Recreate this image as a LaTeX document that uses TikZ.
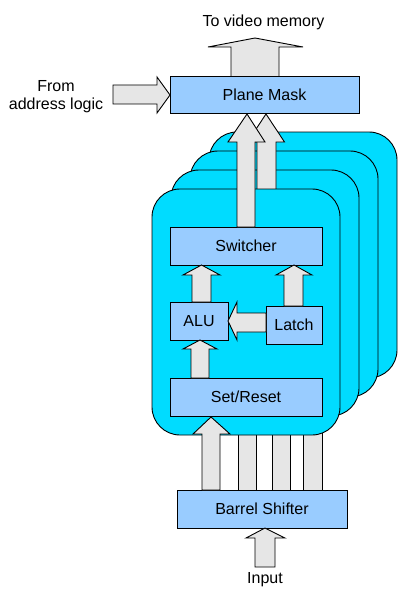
\documentclass[tikz,border=0pt]{standalone}
\usepackage{fontspec}
\setmainfont{Liberation Sans}
\begin{document}
\begin{tikzpicture}[x=1pt,y=-1pt,
  box/.style={draw=black,fill=boxblue,line width=0.9pt,inner sep=0pt,font=\fontsize{16}{19}\selectfont},
  card/.style={draw=black,fill=cardcyan,line width=0.9pt,rounded corners=28pt,minimum width=188pt,minimum height=246pt,inner sep=0pt},
  blockarrow/.style={draw=black,fill=arrowgray,line width=0.9pt,line join=miter},
  lbl/.style={inner sep=0pt,font=\fontsize{16}{19}\selectfont,align=center}]
\definecolor{boxblue}{HTML}{99CCFF}
\definecolor{cardcyan}{HTML}{00DCFF}
\definecolor{arrowgray}{HTML}{E6E6E6}
\useasboundingbox[fill=white] (0,0) rectangle (419,607);
% up block arrow: shaft xl..xr, head hl..hr, base y, tip (tx,ty), bottom y
\newcommand{\uparr}[8]{\draw[blockarrow] (#1,#8) -- (#1,#7) -- (#3,#7) -- (#5,#6) -- (#4,#7) -- (#2,#7) -- (#2,#8) -- cycle;}
% shafts from barrel shifter going behind the cards
\draw[blockarrow] (238,490) rectangle (256,420);
\draw[blockarrow] (272,490) rectangle (290,420);
\draw[blockarrow] (303,490) rectangle (322,420);
% stacked planes
\node[card] (card4) at (303,255) {};
\node[card] (card3) at (284,274) {};
\node[card] (card2) at (265,293) {};
\uparr{257}{276}{247.5}{284.5}{266}{114}{142}{200}
\node[card] (card1) at (246,312) {};
% top output arrow
\uparr{231}{279}{208}{303}{255}{38}{47}{77}
% nodes
\node[box,minimum width=189pt,minimum height=37pt] (pm) at (264.5,94.5) {Plane Mask};
\node[box,minimum width=152pt,minimum height=38pt] (sw) at (246,246) {Switcher};
\node[box,minimum width=58pt,minimum height=38pt] (alu) at (199,321) {ALU};
\node[box,minimum width=56pt,minimum height=38pt] (latch) at (294,325) {Latch};
\node[box,minimum width=152pt,minimum height=38pt] (sr) at (246,397) {Set/Reset};
\node[box,minimum width=170pt,minimum height=38pt] (bs) at (262,509) {Barrel Shifter};
% front arrow into plane mask
\uparr{237}{255}{228}{265}{247}{114}{142}{227}
% internal arrows
\uparr{192}{211}{183}{220}{201.5}{265}{275}{302}
\uparr{284}{303}{276}{312}{294}{265}{275}{306}
\draw[blockarrow] (266,313) -- (237,313) -- (237,302) -- (228,321) -- (237,340) -- (237,332) -- (266,332) -- cycle;
\uparr{191}{209}{183}{217}{200}{340}{349}{378}
% barrel shifter to set/reset
\uparr{202}{220}{193}{230}{211}{417}{434}{490}
% input arrow
\uparr{255}{275}{246}{285}{265}{528}{538}{567}
% address logic arrow
\draw[blockarrow] (113,85) -- (157,85) -- (157,77) -- (170,95) -- (157,113) -- (157,104) -- (113,104) -- cycle;
% labels
\node[lbl] (tvm) at (263.5,22) {To video memory};
\node[lbl] (inp) at (265,580) {Input};
\node[lbl] (fal) at (56,97) {From\\[-1pt]address logic};
\end{tikzpicture}
\end{document}
